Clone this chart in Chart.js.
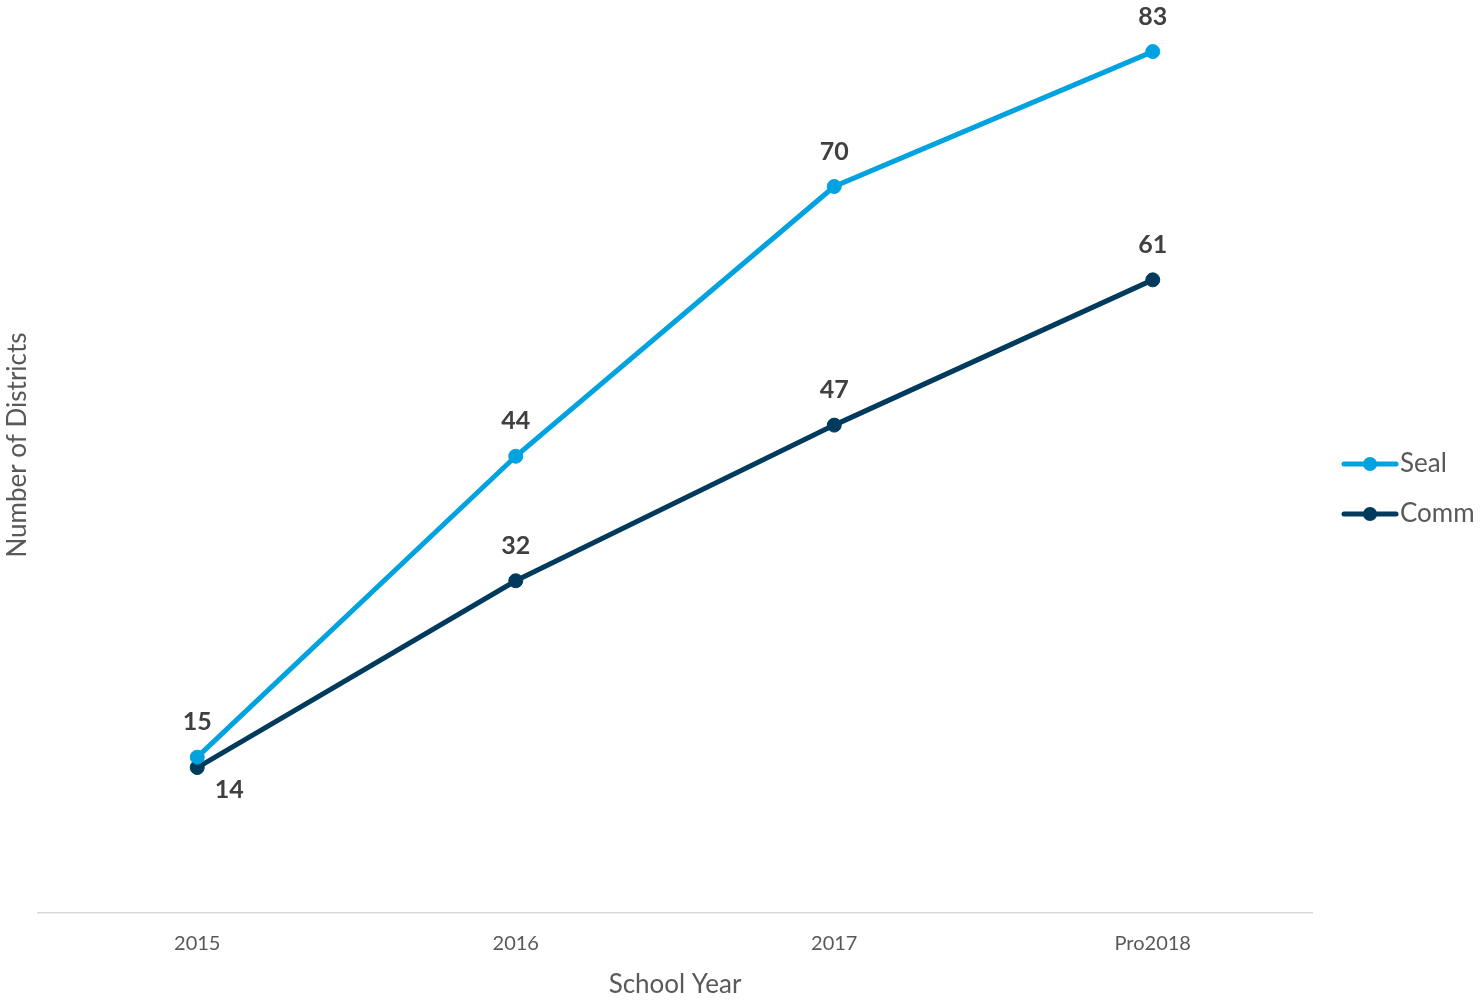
<!DOCTYPE html>
<html>
<head>
<meta charset="utf-8">
<script src="https://cdn.jsdelivr.net/npm/chart.js@4.4.1/dist/chart.umd.min.js"></script>
<style>
  html, body { margin: 0; padding: 0; background: #fff; }
  #wrap { width: 1480px; height: 1002px; position: relative; }
</style>
</head>
<body>
<div id="wrap"><canvas id="grafico"></canvas></div>
<script>
"use strict";

// datos
const years = ['2015', '2016', '2017', 'Pro2018'];
const sealValues = [15, 44, 70, 83];
const commValues = [14, 32, 47, 61];
const seriesNames = ['Seal', 'Comm'];
const yTitle = 'Number of Districts';
const xTitle = 'School Year';

const FONT = "Lato, 'Open Sans', sans-serif";
const SEAL_COLOR = '#00A3E0';
const COMM_COLOR = '#003A5C';

// etiquetas encima de cada punto
const etiquetasPlugin = {
  id: 'etiquetas',
  afterDatasetsDraw(chart) {
    const ctx = chart.ctx;
    ctx.save();
    ctx.font = 'bold 25px ' + FONT;
    ctx.fillStyle = '#404040';
    ctx.textAlign = 'center';
    ctx.textBaseline = 'middle';
    chart.data.datasets.forEach((ds, i) => {
      const meta = chart.getDatasetMeta(i);
      meta.data.forEach((pt, j) => {
        let dx = 0, dy = -35;
        // el 14 de Comm va abajo a la derecha
        if (i === 1 && j === 0) { dx = 32; dy = 22; }
        ctx.fillText(ds.data[j], pt.x + dx, pt.y + dy);
      });
    });
    ctx.restore();
  }
};

// titulo del eje Y (centrado un poco mas arriba que el area)
const tituloYPlugin = {
  id: 'tituloY',
  afterDraw(chart) {
    const ctx = chart.ctx;
    ctx.save();
    ctx.translate(18, 445);
    ctx.rotate(-Math.PI / 2);
    ctx.font = '26px ' + FONT;
    ctx.fillStyle = '#595959';
    ctx.textAlign = 'center';
    ctx.textBaseline = 'middle';
    ctx.fillText(yTitle, 0, 0);
    ctx.restore();
  }
};

// leyenda a la derecha, linea con punto
const leyendaPlugin = {
  id: 'leyenda',
  afterDraw(chart) {
    const ctx = chart.ctx;
    ctx.save();
    chart.data.datasets.forEach((ds, i) => {
      const y = 464 + i * 50;
      ctx.strokeStyle = ds.borderColor;
      ctx.lineWidth = 5;
      ctx.lineCap = 'round';
      ctx.beginPath();
      ctx.moveTo(1344, y);
      ctx.lineTo(1396, y);
      ctx.stroke();
      ctx.fillStyle = ds.borderColor;
      ctx.beginPath();
      ctx.arc(1370, y, 7, 0, Math.PI * 2);
      ctx.fill();
      ctx.fillStyle = '#595959';
      ctx.font = '26px ' + FONT;
      ctx.textAlign = 'left';
      ctx.textBaseline = 'middle';
      ctx.fillText(ds.label, 1400, y);
    });
    ctx.restore();
  }
};

const ctx = document.getElementById('grafico').getContext('2d');
new Chart(ctx, {
  type: 'line',
  data: {
    labels: years,
    datasets: [{
      label: seriesNames[0],
      data: sealValues,
      borderColor: SEAL_COLOR,
      backgroundColor: SEAL_COLOR,
      pointBackgroundColor: SEAL_COLOR,
      pointBorderColor: SEAL_COLOR,
      borderWidth: 5,
      pointRadius: 7,
      pointBorderWidth: 1,
      tension: 0,
      fill: false
    }, {
      label: seriesNames[1],
      data: commValues,
      borderColor: COMM_COLOR,
      backgroundColor: COMM_COLOR,
      pointBackgroundColor: COMM_COLOR,
      pointBorderColor: COMM_COLOR,
      borderWidth: 5,
      pointRadius: 7,
      pointBorderWidth: 1,
      tension: 0,
      fill: false
    }]
  },
  options: {
    responsive: true,
    maintainAspectRatio: false,
    animation: false,
    layout: {
      padding: { left: 38, right: 168, top: 0, bottom: 3 }
    },
    plugins: {
      legend: { display: false },
      tooltip: { enabled: false }
    },
    scales: {
      x: {
        offset: true,
        grid: { display: false, drawTicks: false },
        border: { display: true, color: '#D9D9D9', width: 1.5 },
        ticks: {
          padding: 19,
          color: '#595959',
          font: { family: FONT, size: 20 }
        },
        title: {
          display: true,
          text: xTitle,
          color: '#595959',
          font: { family: FONT, size: 26 },
          padding: { top: -6, bottom: -1 }
        }
      },
      y: {
        display: false,
        min: 0,
        max: 87.2
      }
    }
  },
  plugins: [etiquetasPlugin, tituloYPlugin, leyendaPlugin]
});
</script>
</body>
</html>
